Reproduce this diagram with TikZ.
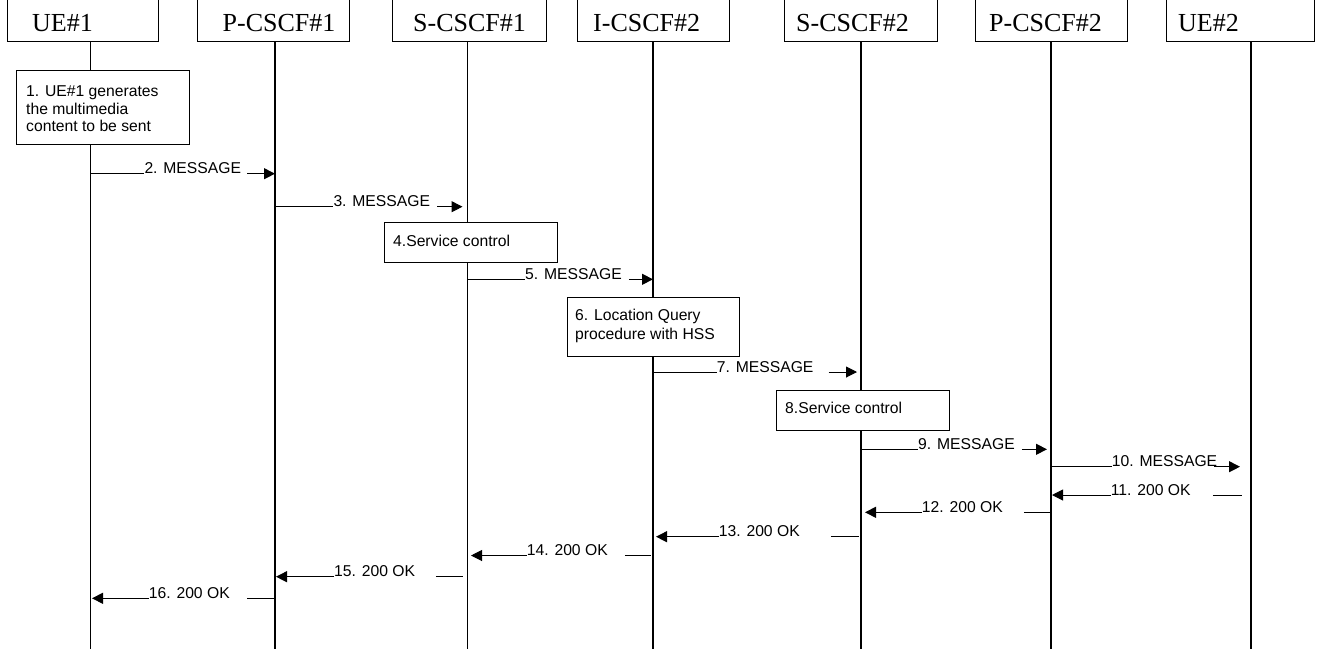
\documentclass[tikz,border=0pt]{standalone}
\usepackage{fontspec}
\setmainfont{Liberation Serif}
\newfontfamily\arialfont{Liberation Sans}
\usetikzlibrary{arrows.meta,calc}
\begin{document}
\begin{tikzpicture}[x=1pt,y=-1pt,
  hdrbox/.style={draw, line width=1.1pt, minimum width=#1, minimum height=60pt, anchor=south west, inner sep=0pt},
  hdrtxt/.style={anchor=base west, inner sep=0pt, font=\fontsize{26}{30}\selectfont},
  procbox/.style={draw, fill=white, line width=1.1pt, anchor=north west, inner sep=0pt},
  boxtxt/.style={anchor=base west, inner sep=0pt, font=\arialfont\fontsize{15.7}{17.5}\selectfont},
  lbl/.style={anchor=base west, inner sep=0pt, font=\arialfont\fontsize{15.7}{17.5}\selectfont},
  life/.style={line width=1.1pt},
  msg/.style={line width=1pt},
  arr/.style={-{Triangle[length=11pt,width=11pt]}}
]
\useasboundingbox (0,0) rectangle (1325,649);
\clip (0,0) rectangle (1325,649);
\fill[white] (0,0) rectangle (1325,649);

% entity headers (their top edges run off the page)
\node[hdrbox, minimum width=151pt] (hue1) at (7,42) {};
\node[hdrbox, minimum width=152pt] (hpc1) at (197,42) {};
\node[hdrbox, minimum width=154pt] (hsc1) at (392,42) {};
\node[hdrbox, minimum width=152pt] (hic2) at (577,42) {};
\node[hdrbox, minimum width=153pt] (hsc2) at (784,42) {};
\node[hdrbox, minimum width=152pt] (hpc2) at (975,42) {};
\node[hdrbox, minimum width=148pt] (hue2) at (1166,42) {};

\node[hdrtxt] (tue1) at (32,31) {UE\#1};
\node[hdrtxt] (tpc1) at (222.5,31) {P-CSCF\#1};
\node[hdrtxt] (tsc1) at (413,31) {S-CSCF\#1};
\node[hdrtxt] (tic2) at (593,31) {I-CSCF\#2};
\node[hdrtxt] (tsc2) at (796,31) {S-CSCF\#2};
\node[hdrtxt] (tpc2) at (989,31) {P-CSCF\#2};
\node[hdrtxt] (tue2) at (1178,31) {UE\#2};

% lifelines
\coordinate (l1) at (90.5,42);   \coordinate (e1) at (90.5,649);
\coordinate (l2) at (275,42);    \coordinate (e2) at (275,649);
\coordinate (l3) at (467.5,42);  \coordinate (e3) at (467.5,649);
\coordinate (l4) at (653,42);    \coordinate (e4) at (653,649);
\coordinate (l5) at (861,42);    \coordinate (e5) at (861,649);
\coordinate (l6) at (1051,42);   \coordinate (e6) at (1051,649);
\coordinate (l7) at (1251,42);   \coordinate (e7) at (1251,649);
\foreach \i in {1,...,7} { \draw[life] (l\i) -- (e\i); }

% local procedures
\node[procbox, minimum width=173pt, minimum height=74pt] (p1) at (16,70) {};
\node[boxtxt] (t1a) at (26,96.3) {1. UE\#1 generates};
\node[boxtxt] (t1b) at (26,114) {the multimedia};
\node[boxtxt] (t1c) at (26,131.6) {content to be sent};

\node[procbox, minimum width=173pt, minimum height=40pt] (p4) at (384,222) {};
\node[boxtxt] (t4) at (393,246) {4.Service control};

\node[procbox, minimum width=172pt, minimum height=59pt] (p6) at (567,297) {};
\node[boxtxt] (t6a) at (575,320.5) {6. Location Query};
\node[boxtxt] (t6b) at (575,339) {procedure with HSS};

\node[procbox, minimum width=173pt, minimum height=40pt] (p8) at (776,390) {};
\node[boxtxt] (t8) at (785,413) {8.Service control};

% requests
\node[lbl] (m2) at (144.3,173.7) {2. MESSAGE};
\draw[msg] (l1 |- m2.base) -- (m2.base west);
\draw[msg,arr] ($(m2.base east)+(6,0)$) -- (l2 |- m2.base);

\node[lbl] (m3) at (333.3,206.7) {3. MESSAGE};
\draw[msg] (l2 |- m3.base) -- (m3.base west);
\draw[msg,arr] ($(m3.base east)+(7,0)$) -- ($(l3 |- m3.base)+(-5,0)$);

\node[lbl] (m5) at (525,279.3) {5. MESSAGE};
\draw[msg] (l3 |- m5.base) -- (m5.base west);
\draw[msg,arr] ($(m5.base east)+(7,0)$) -- (l4 |- m5.base);

\node[lbl] (m7) at (716.7,372) {7. MESSAGE};
\draw[msg] (l4 |- m7.base) -- (m7.base west);
\draw[msg,arr] ($(m7.base east)+(15,0)$) -- ($(l5 |- m7.base)+(-4,0)$);

\node[lbl] (m9) at (918,449.3) {9. MESSAGE};
\draw[msg] (l5 |- m9.base) -- (m9.base west);
\draw[msg,arr] ($(m9.base east)+(7,0)$) -- ($(l6 |- m9.base)+(-4,0)$);

\node[lbl] (m10) at (1111.7,466.7) {10. MESSAGE};
\draw[msg] (l6 |- m10.base) -- (m10.base west);
\draw[msg,arr] ($(m10.base east)+(-3,0)$) -- ($(l7 |- m10.base)+(-11,0)$);

% responses
\node[lbl] (m11) at (1110.7,495) {11. 200 OK};
\draw[msg,arr] (m11.base west) -- ($(l6 |- m11.base)+(1,0)$);
\draw[msg] ($(m11.base east)+(22,0)$) -- ($(l7 |- m11.base)+(-9,0)$);

\node[lbl] (m12) at (921.7,512.3) {12. 200 OK};
\draw[msg,arr] (m12.base west) -- ($(l5 |- m12.base)+(4,0)$);
\draw[msg] ($(m12.base east)+(21,0)$) -- ($(l6 |- m12.base)+(-1,0)$);

\node[lbl] (m13) at (718.7,536.7) {13. 200 OK};
\draw[msg,arr] (m13.base west) -- ($(l4 |- m13.base)+(3,0)$);
\draw[msg] ($(m13.base east)+(31,0)$) -- ($(l5 |- m13.base)+(-2,0)$);

\node[lbl] (m14) at (526.7,555.5) {14. 200 OK};
\draw[msg,arr] (m14.base west) -- ($(l3 |- m14.base)+(3.5,0)$);
\draw[msg] ($(m14.base east)+(17,0)$) -- ($(l4 |- m14.base)+(-2,0)$);

\node[lbl] (m15) at (334,576.7) {15. 200 OK};
\draw[msg,arr] (m15.base west) -- ($(l2 |- m15.base)+(1,0)$);
\draw[msg] ($(m15.base east)+(20.5,0)$) -- ($(l3 |- m15.base)+(-5,0)$);

\node[lbl] (m16) at (148.7,598.3) {16. 200 OK};
\draw[msg,arr] (m16.base west) -- ($(l1 |- m16.base)+(1.5,0)$);
\draw[msg] ($(m16.base east)+(17.5,0)$) -- ($(l2 |- m16.base)+(-1,0)$);
\end{tikzpicture}
\end{document}
